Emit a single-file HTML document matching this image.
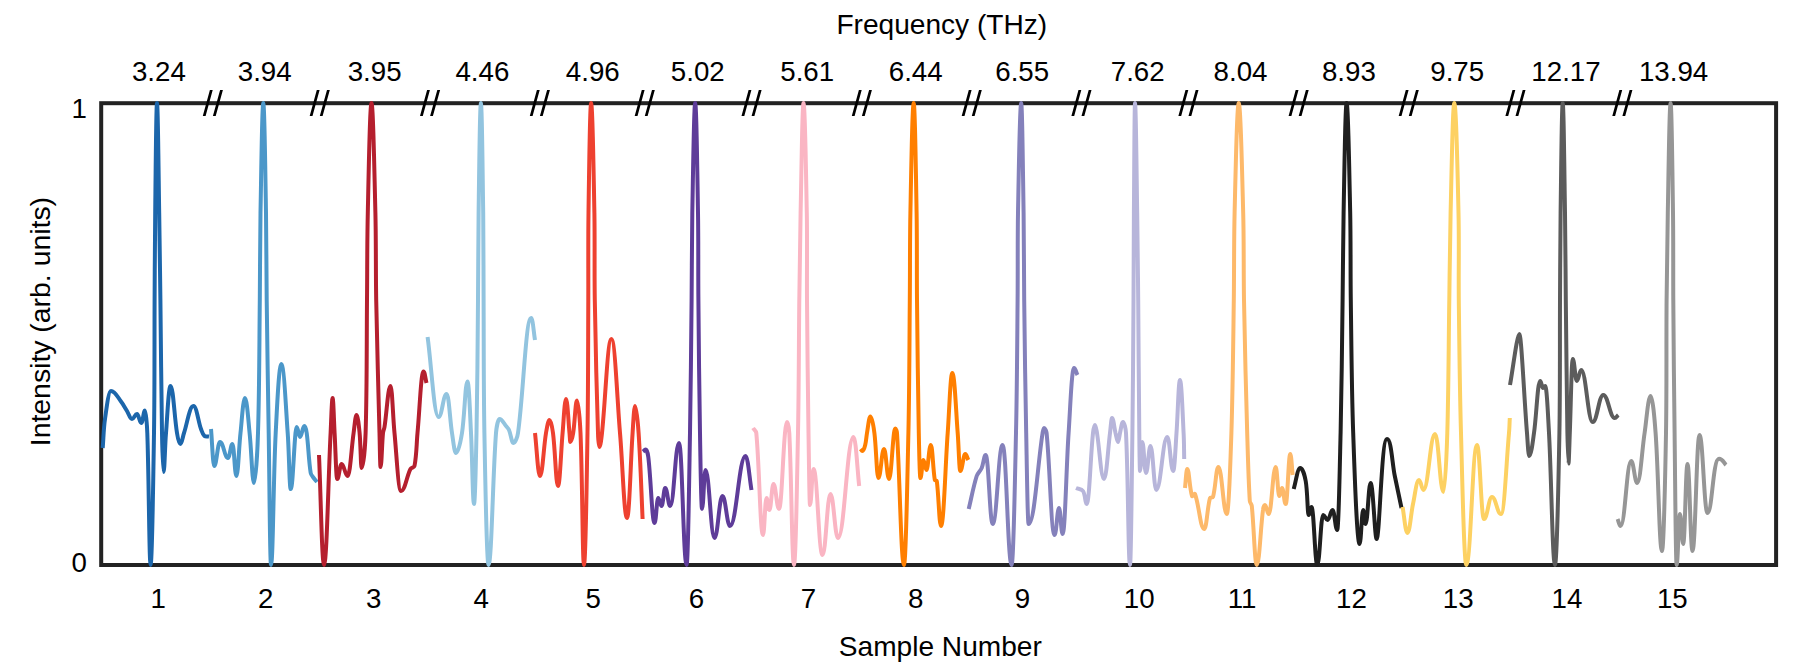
<!DOCTYPE html>
<html lang="en"><head><meta charset="utf-8"><title>Normalized spectra</title>
<style>
html,body{margin:0;padding:0;background:#fff;}
body{width:1803px;height:667px;overflow:hidden;}
svg{display:block;}
text{font-family:"Liberation Sans",Arial,Helvetica,sans-serif;fill:#000;}
.t{font-size:27.7px;}
.a{font-size:28.1px;}
.c{fill:none;stroke-width:4;stroke-linejoin:round;stroke-linecap:butt;}
</style></head>
<body>
<svg width="1803" height="667" viewBox="0 0 1803 667">
<rect x="0" y="0" width="1803" height="667" fill="#fff"/>
<rect x="101.2" y="103.2" width="1674.9" height="461.8" fill="none" stroke="#222" stroke-width="4"/>
<path class="c" stroke="#1c66ab" d="M102.7 448.0C103.5 438.3 103.6 428.6 105.0 419.0C106.4 409.6 108.5 391.0 111.0 391.0C115.2 391.0 118.0 397.7 121.0 401.5C123.3 404.4 125.0 407.8 127.0 411.0C128.7 413.7 129.9 419.0 132.0 419.0C134.1 419.0 134.9 414.0 137.0 414.0C138.8 414.0 139.5 423.0 141.3 423.0C142.9 423.0 143.4 410.5 145.0 410.5C146.0 410.5 147.0 425.5 147.3 433.0C148.9 477.0 149.2 564.9 150.6 564.9C152.0 564.9 153.3 477.0 154.0 433.0C154.7 388.7 154.4 344.3 154.6 300.0C154.8 271.0 154.8 242.0 155.2 213.0C155.6 176.4 156.2 103.1 157.0 103.1C157.9 103.1 158.6 176.4 159.2 213.0C159.7 242.0 160.0 271.0 160.4 300.0C161.0 344.3 161.2 388.7 162.0 433.0C162.2 446.0 162.9 472.0 163.5 472.0C164.6 472.0 164.9 446.0 166.0 433.0C167.3 417.3 168.6 386.0 170.5 386.0C173.2 386.0 174.4 417.4 177.0 433.0C177.6 436.8 178.9 444.0 180.3 444.0C181.9 444.0 182.7 436.7 184.0 433.0C187.1 424.0 189.5 406.0 193.4 406.0C196.6 406.0 198.2 421.4 201.0 429.0C201.9 431.4 202.6 434.2 204.5 436.0C205.6 437.0 207.5 436.3 209.0 436.5"/>
<path class="c" stroke="#4b97c9" d="M211.0 429.0C212.1 441.3 212.9 466.0 214.2 466.0C216.6 466.0 217.6 442.0 220.0 442.0C223.4 442.0 224.6 458.0 228.0 458.0C229.8 458.0 230.6 444.0 232.4 444.0C234.1 444.0 234.7 476.0 236.4 476.0C238.1 476.0 238.9 447.3 240.5 433.0C241.8 421.3 243.1 398.0 245.0 398.0C246.9 398.0 248.4 421.3 249.6 433.0C251.4 449.6 252.2 483.0 254.0 483.0C255.7 483.0 257.5 449.7 258.0 433.0C259.4 388.7 259.3 344.3 259.8 300.0C260.1 271.0 260.0 242.0 260.5 213.0C261.2 176.4 262.1 103.1 263.3 103.1C264.4 103.1 265.4 176.4 266.0 213.0C266.5 242.0 266.3 271.0 266.7 300.0C267.2 344.3 268.0 388.7 268.7 433.0C269.4 477.0 270.0 564.9 271.0 564.9C273.0 564.9 273.4 476.9 275.7 433.0C276.9 410.0 278.9 364.0 281.3 364.0C284.0 364.0 286.0 410.0 287.7 433.0C289.1 451.6 289.4 489.0 290.7 489.0C292.7 489.0 293.7 451.6 295.5 433.0C295.7 431.0 296.2 427.0 296.7 427.0C298.1 427.0 298.6 437.0 300.0 437.0C301.8 437.0 302.5 426.0 304.3 426.0C305.3 426.0 306.4 430.6 306.7 433.0C308.5 446.3 308.6 459.8 310.7 473.0C311.0 474.9 312.6 476.4 313.7 478.0C314.7 479.4 315.9 480.7 317.0 482.0"/>
<path class="c" stroke="#b51f2e" d="M319.0 455.0C320.7 491.6 321.9 564.9 324.0 564.9C326.8 564.9 328.3 477.0 330.6 433.0C331.2 421.3 331.8 398.0 332.6 398.0C333.4 398.0 333.9 421.3 334.6 433.0C335.5 448.3 336.1 479.0 337.2 479.0C339.0 479.0 339.8 464.0 341.6 464.0C344.1 464.0 345.1 476.0 347.6 476.0C350.1 476.0 351.5 447.3 353.6 433.0C354.5 427.0 355.3 415.0 356.6 415.0C357.9 415.0 359.0 426.9 359.6 433.0C360.7 444.6 360.8 468.0 361.6 468.0C363.3 468.0 365.2 444.7 365.6 433.0C367.0 388.7 366.6 344.3 367.0 300.0C367.3 271.0 367.1 242.0 367.8 213.0C368.6 176.4 369.9 103.1 371.5 103.1C373.1 103.1 374.5 176.4 375.4 213.0C376.1 242.0 375.7 271.0 376.2 300.0C377.0 344.3 378.4 388.7 379.5 433.0C379.8 444.3 380.1 467.0 380.5 467.0C381.6 467.0 381.9 444.3 383.0 433.0C383.2 430.9 384.2 429.0 384.5 427.0C386.7 413.4 388.0 386.0 390.5 386.0C392.2 386.0 392.9 417.4 394.5 433.0C396.4 452.4 398.3 491.0 401.0 491.0C405.0 491.0 406.7 476.0 410.5 469.0C411.3 467.5 414.2 467.6 414.5 466.0C416.6 455.2 416.5 444.0 417.5 433.0C419.5 412.5 421.0 371.5 423.5 371.5C424.8 371.5 425.5 379.2 426.5 383.0"/>
<path class="c" stroke="#92c4df" d="M427.6 337.0C431.3 363.7 434.0 417.0 438.6 417.0C442.0 417.0 443.2 394.0 446.6 394.0C448.9 394.0 449.9 420.0 452.0 433.0C453.1 439.7 454.3 453.0 456.0 453.0C458.5 453.0 460.9 439.9 462.0 433.0C464.7 416.0 465.2 381.5 467.5 381.5C469.0 381.5 470.1 415.8 471.0 433.0C472.3 456.7 472.7 504.0 474.0 504.0C475.1 504.0 476.0 456.7 476.5 433.0C477.4 388.7 477.6 344.3 478.0 300.0C478.3 271.0 478.2 242.0 478.6 213.0C479.1 176.4 479.9 103.1 480.9 103.1C481.9 103.1 482.7 176.4 483.2 213.0C483.6 242.0 483.4 271.0 483.6 300.0C483.8 344.3 483.6 388.7 484.4 433.0C485.2 477.0 486.8 564.9 488.5 564.9C491.6 564.9 492.7 476.9 496.0 433.0C496.4 428.2 498.0 419.0 499.5 419.0C502.2 419.0 503.9 423.6 506.0 426.0C507.1 427.3 508.3 428.5 509.0 430.0C510.9 434.2 511.6 443.0 513.5 443.0C515.4 443.0 517.5 436.6 518.0 433.0C523.4 394.8 525.7 318.0 531.2 318.0C532.8 318.0 533.7 332.7 535.0 340.0"/>
<path class="c" stroke="#ee4130" d="M535.0 433.0C536.7 447.3 537.9 476.0 540.0 476.0C542.5 476.0 543.6 447.3 546.0 433.0C546.8 428.6 548.0 420.0 549.5 420.0C551.0 420.0 552.4 428.5 553.0 433.0C555.3 450.6 555.9 486.0 558.0 486.0C559.9 486.0 561.0 450.7 562.6 433.0C563.6 421.7 564.6 399.0 566.0 399.0C567.5 399.0 568.4 421.7 569.5 433.0C569.8 436.0 570.0 442.0 570.3 442.0C571.5 442.0 572.7 436.1 573.2 433.0C574.9 422.2 575.4 400.5 577.0 400.5C578.5 400.5 580.0 422.1 580.5 433.0C582.4 476.9 582.5 564.9 584.0 564.9C585.5 564.9 586.8 477.0 587.5 433.0C588.2 388.7 588.1 344.3 588.3 300.0C588.4 271.0 588.1 242.0 588.5 213.0C589.0 176.4 590.0 103.1 591.1 103.1C592.5 103.1 593.7 176.4 594.4 213.0C594.9 242.0 594.3 271.0 594.8 300.0C595.5 344.3 596.6 388.7 598.0 433.0C598.1 437.7 598.9 447.0 599.5 447.0C600.5 447.0 601.5 437.7 602.0 433.0C605.4 401.7 607.5 339.0 611.4 339.0C615.0 339.0 617.3 401.7 620.0 433.0C622.5 461.3 624.1 518.0 627.0 518.0C629.4 518.0 630.6 461.3 632.6 433.0C633.2 424.0 634.0 406.0 635.0 406.0C636.5 406.0 638.0 423.9 638.6 433.0C640.5 461.6 641.3 490.3 642.6 519.0"/>
<path class="c" stroke="#5e3c99" d="M643.0 451.6C643.9 450.9 644.5 449.6 645.6 449.6C646.7 449.6 648.0 454.4 648.3 457.0C651.0 478.9 652.0 523.0 654.6 523.0C656.1 523.0 656.7 498.0 658.2 498.0C659.6 498.0 660.2 506.0 661.6 506.0C663.1 506.0 663.7 488.0 665.2 488.0C667.3 488.0 668.1 506.0 670.2 506.0C673.9 506.0 675.3 443.0 679.0 443.0C682.2 443.0 683.4 564.9 686.6 564.9C688.0 564.9 689.2 477.0 690.0 433.0C690.8 388.7 691.1 344.3 691.6 300.0C691.9 271.0 691.8 242.0 692.3 213.0C693.0 176.4 694.0 103.1 695.2 103.1C696.4 103.1 697.4 176.4 698.0 213.0C698.5 242.0 698.1 271.0 698.4 300.0C698.8 344.3 699.2 388.7 700.0 433.0C700.4 458.3 701.2 509.0 702.0 509.0C703.5 509.0 704.0 470.0 705.5 470.0C709.3 470.0 710.7 538.0 714.5 538.0C717.9 538.0 719.1 496.0 722.5 496.0C725.6 496.0 726.9 526.0 730.0 526.0C736.5 526.0 739.0 456.0 745.5 456.0C748.0 456.0 749.5 478.7 751.5 490.0"/>
<path class="c" stroke="#fab5c3" d="M753.0 428.0C754.1 429.7 756.1 431.0 756.3 433.0C759.5 466.9 760.2 535.0 763.0 535.0C764.5 535.0 765.0 498.0 766.5 498.0C767.7 498.0 768.2 510.0 769.4 510.0C771.1 510.0 771.8 484.0 773.5 484.0C775.8 484.0 776.7 509.0 779.0 509.0C781.5 509.0 782.7 458.3 785.0 433.0C785.3 429.3 786.2 422.0 787.0 422.0C788.0 422.0 789.1 429.3 789.3 433.0C791.5 476.9 792.0 564.9 794.0 564.9C795.7 564.9 797.1 477.0 798.0 433.0C798.9 388.7 798.8 344.3 799.3 300.0C799.6 271.0 800.0 242.0 800.6 213.0C801.4 176.4 802.3 103.1 803.5 103.1C804.9 103.1 806.1 176.4 806.8 213.0C807.3 242.0 806.8 271.0 807.0 300.0C807.3 344.3 807.9 388.7 808.5 433.0C808.9 457.0 809.4 505.0 810.0 505.0C811.5 505.0 812.0 469.0 813.5 469.0C817.3 469.0 818.7 555.0 822.5 555.0C825.9 555.0 827.1 494.0 830.5 494.0C833.6 494.0 834.9 538.0 838.0 538.0C844.5 538.0 847.0 437.0 853.5 437.0C855.9 437.0 857.3 469.7 859.2 486.0"/>
<path class="c" stroke="#ff7f00" d="M860.6 449.0C861.2 449.7 861.6 451.0 862.4 451.0C863.6 451.0 864.7 447.1 865.2 445.0C866.2 441.1 866.3 437.0 867.0 433.0C868.0 427.5 869.0 416.5 870.4 416.5C872.1 416.5 873.7 427.4 874.4 433.0C876.3 447.9 876.7 478.0 878.4 478.0C880.8 478.0 881.6 449.0 884.0 449.0C886.1 449.0 886.9 479.0 889.0 479.0C891.1 479.0 892.1 448.3 894.0 433.0C894.2 431.5 894.8 428.5 895.3 428.5C896.0 428.5 896.9 431.4 897.0 433.0C899.8 476.9 901.1 564.9 904.0 564.9C905.8 564.9 907.4 477.0 908.4 433.0C909.4 388.7 909.4 344.3 909.8 300.0C910.1 271.0 909.8 242.0 910.4 213.0C911.1 176.4 912.3 103.1 913.7 103.1C914.9 103.1 916.0 176.4 916.6 213.0C917.1 242.0 916.7 271.0 917.0 300.0C917.4 344.3 918.0 388.7 918.8 433.0C919.1 448.0 919.7 478.0 920.4 478.0C921.7 478.0 922.1 460.0 923.4 460.0C924.7 460.0 925.1 470.0 926.4 470.0C928.2 470.0 929.0 445.0 930.8 445.0C932.5 445.0 932.9 468.4 934.8 480.0C934.9 480.7 936.7 480.3 936.8 481.0C938.8 495.9 939.2 526.0 941.0 526.0C943.8 526.0 945.4 464.0 947.7 433.0C949.2 413.0 950.4 373.0 952.3 373.0C954.6 373.0 956.1 413.0 957.7 433.0C958.7 445.7 959.2 471.0 960.3 471.0C962.4 471.0 963.2 454.0 965.3 454.0C966.6 454.0 967.3 458.0 968.3 460.0"/>
<path class="c" stroke="#8481bb" d="M968.7 509.0C971.4 498.0 973.3 486.8 976.7 476.0C977.7 473.0 980.5 470.9 981.7 468.0C983.5 463.8 984.0 455.0 985.7 455.0C988.6 455.0 989.8 524.0 992.7 524.0C996.9 524.0 998.4 445.0 1002.6 445.0C1006.4 445.0 1007.8 564.9 1011.6 564.9C1013.4 564.9 1015.0 477.0 1016.0 433.0C1017.0 388.7 1017.2 344.3 1017.6 300.0C1017.9 271.0 1017.5 242.0 1018.0 213.0C1018.7 176.4 1019.9 103.1 1021.2 103.1C1022.2 103.1 1023.0 176.4 1023.6 213.0C1024.0 242.0 1023.9 271.0 1024.2 300.0C1024.7 344.3 1025.3 388.7 1026.2 433.0C1026.8 463.3 1027.6 524.0 1028.6 524.0C1034.5 524.0 1037.7 463.3 1042.6 433.0C1042.9 431.3 1043.4 428.0 1044.0 428.0C1045.1 428.0 1046.4 431.1 1046.6 433.0C1050.0 466.9 1051.2 535.0 1054.6 535.0C1056.4 535.0 1057.2 508.0 1059.0 508.0C1060.5 508.0 1061.1 534.0 1062.6 534.0C1065.1 534.0 1066.3 466.6 1068.6 433.0C1070.1 411.3 1071.7 368.0 1074.0 368.0C1075.5 368.0 1076.3 372.7 1077.5 375.0"/>
<path class="c" stroke="#b7b5da" d="M1076.0 488.0C1078.3 489.0 1081.6 488.9 1083.0 491.0C1085.5 494.7 1085.1 504.0 1086.6 504.0C1089.3 504.0 1090.5 456.6 1093.0 433.0C1093.3 430.3 1094.2 425.0 1095.0 425.0C1095.8 425.0 1096.5 430.3 1097.0 433.0C1099.5 448.3 1101.1 479.0 1104.0 479.0C1106.5 479.0 1108.0 448.3 1110.0 433.0C1110.7 428.0 1111.2 418.0 1112.0 418.0C1113.5 418.0 1114.3 428.0 1115.5 433.0C1116.3 436.0 1117.0 442.0 1118.0 442.0C1118.8 442.0 1119.3 436.0 1120.0 433.0C1120.9 429.3 1121.7 422.0 1123.0 422.0C1124.3 422.0 1125.8 429.2 1126.0 433.0C1128.2 476.9 1128.3 564.9 1130.0 564.9C1131.0 564.9 1131.8 477.0 1132.4 433.0C1133.0 388.7 1133.2 344.3 1133.5 300.0C1133.7 271.0 1133.7 242.0 1133.9 213.0C1134.2 176.4 1134.5 103.1 1135.0 103.1C1135.9 103.1 1136.6 176.4 1137.2 213.0C1137.7 242.0 1137.9 271.0 1138.2 300.0C1138.6 344.3 1138.8 388.7 1139.3 433.0C1139.4 445.7 1139.7 471.0 1140.0 471.0C1141.0 471.0 1141.3 442.0 1142.3 442.0C1143.9 442.0 1144.4 473.0 1146.0 473.0C1147.9 473.0 1148.6 446.0 1150.5 446.0C1152.9 446.0 1153.9 490.0 1156.3 490.0C1160.9 490.0 1162.7 437.0 1167.3 437.0C1169.8 437.0 1170.7 471.0 1173.2 471.0C1174.6 471.0 1175.6 445.7 1176.5 433.0C1177.8 415.3 1178.5 380.0 1180.0 380.0C1181.5 380.0 1182.7 415.3 1183.6 433.0C1184.1 441.7 1184.0 450.3 1184.2 459.0"/>
<path class="c" stroke="#fdb96a" d="M1185.0 488.0C1185.7 481.7 1186.3 469.0 1187.2 469.0C1189.2 469.0 1189.3 487.3 1192.0 496.0C1192.4 497.1 1194.6 492.9 1195.0 494.0C1199.2 505.3 1200.3 529.0 1204.2 529.0C1206.6 529.0 1207.2 508.1 1210.0 498.0C1210.3 497.0 1212.7 498.0 1213.0 497.0C1215.7 487.2 1216.1 467.0 1218.4 467.0C1221.9 467.0 1223.3 514.0 1226.8 514.0C1228.7 514.0 1230.5 460.0 1231.4 433.0C1232.8 388.7 1233.2 344.3 1233.8 300.0C1234.2 271.0 1233.9 242.0 1234.6 213.0C1235.5 176.4 1237.0 103.1 1238.7 103.1C1240.6 103.1 1242.2 176.3 1243.2 213.0C1244.0 242.0 1243.5 271.0 1244.0 300.0C1244.8 344.3 1245.9 388.7 1247.2 433.0C1247.9 455.7 1248.4 478.4 1249.8 501.0C1249.9 502.8 1251.6 504.2 1251.8 506.0C1253.9 525.6 1254.7 564.9 1256.8 564.9C1259.4 564.9 1260.5 528.2 1263.0 510.0C1263.2 508.2 1264.2 505.0 1265.0 505.0C1266.6 505.0 1267.1 514.0 1268.7 514.0C1271.6 514.0 1272.8 467.0 1275.7 467.0C1277.2 467.0 1277.8 496.0 1279.3 496.0C1280.4 496.0 1280.9 488.0 1282.0 488.0C1283.6 488.0 1284.1 504.0 1285.7 504.0C1287.6 504.0 1288.4 454.0 1290.3 454.0C1291.3 454.0 1291.9 468.0 1292.7 475.0"/>
<path class="c" stroke="#1f1f1f" d="M1293.7 489.0C1295.9 482.0 1297.5 468.0 1300.3 468.0C1302.6 468.0 1304.9 476.4 1305.7 481.0C1307.7 492.2 1307.4 515.0 1308.7 515.0C1309.9 515.0 1310.3 507.0 1311.5 507.0C1313.9 507.0 1314.9 564.9 1317.3 564.9C1319.8 564.9 1320.7 515.0 1323.2 515.0C1325.0 515.0 1325.8 520.0 1327.6 520.0C1329.7 520.0 1330.5 510.0 1332.6 510.0C1334.5 510.0 1335.3 530.0 1337.2 530.0C1338.6 530.0 1339.8 465.3 1340.6 433.0C1341.6 388.7 1342.0 344.3 1342.6 300.0C1343.0 271.0 1343.0 242.0 1343.6 213.0C1344.3 176.4 1345.3 103.1 1346.6 103.1C1348.1 103.1 1349.4 176.4 1350.2 213.0C1350.8 242.0 1350.4 271.0 1350.8 300.0C1351.4 344.3 1351.6 388.7 1353.2 433.0C1354.5 470.0 1356.9 544.0 1359.6 544.0C1361.1 544.0 1361.7 510.0 1363.2 510.0C1364.2 510.0 1364.6 524.0 1365.6 524.0C1367.7 524.0 1368.5 483.0 1370.6 483.0C1373.1 483.0 1374.8 539.0 1376.6 539.0C1379.7 539.0 1381.3 439.0 1387.0 439.0C1391.3 439.0 1392.2 463.7 1394.8 476.0C1397.0 486.7 1399.3 497.3 1401.5 508.0"/>
<path class="c" stroke="#fdd162" d="M1402.6 507.0C1404.2 515.7 1405.4 533.0 1407.4 533.0C1409.8 533.0 1410.9 513.6 1413.0 504.0C1414.8 495.9 1416.5 480.0 1419.0 480.0C1420.9 480.0 1421.6 490.0 1423.5 490.0C1428.3 490.0 1430.2 434.0 1435.0 434.0C1438.6 434.0 1439.9 492.0 1443.5 492.0C1445.1 492.0 1446.7 452.7 1447.3 433.0C1448.6 388.7 1448.6 344.3 1449.3 300.0C1449.7 271.0 1449.9 242.0 1450.6 213.0C1451.5 176.4 1452.7 103.1 1454.3 103.1C1456.1 103.1 1457.7 176.3 1458.5 213.0C1459.2 242.0 1458.5 271.0 1458.8 300.0C1459.3 344.3 1459.7 388.7 1461.0 433.0C1462.2 477.0 1464.1 564.9 1466.3 564.9C1470.8 564.9 1472.5 445.0 1477.0 445.0C1479.9 445.0 1481.1 519.0 1484.0 519.0C1487.4 519.0 1488.6 497.0 1492.0 497.0C1495.8 497.0 1497.2 514.0 1501.0 514.0C1504.4 514.0 1506.5 460.0 1509.0 433.0C1509.5 428.0 1509.5 423.0 1509.8 418.0"/>
<path class="c" stroke="#5c5c5c" d="M1510.0 385.0C1513.1 368.0 1517.1 334.0 1519.4 334.0C1521.3 334.0 1524.3 400.0 1527.0 433.0C1527.6 440.7 1528.3 456.0 1529.2 456.0C1531.2 456.0 1532.9 440.7 1534.0 433.0C1536.5 415.7 1537.6 381.0 1540.2 381.0C1541.4 381.0 1541.8 388.0 1543.0 388.0C1543.9 388.0 1544.3 386.0 1545.2 386.0C1546.8 386.0 1548.1 417.3 1549.0 433.0C1551.4 476.9 1552.5 564.9 1555.0 564.9C1556.8 564.9 1558.6 477.0 1559.4 433.0C1560.2 388.7 1559.8 344.3 1560.0 300.0C1560.2 271.0 1560.2 242.0 1560.6 213.0C1561.1 176.4 1561.8 103.1 1562.7 103.1C1563.7 103.1 1564.4 176.4 1565.0 213.0C1565.5 242.0 1565.5 271.0 1565.8 300.0C1566.3 344.3 1566.7 388.7 1567.4 433.0C1567.6 443.2 1568.2 463.5 1568.5 463.5C1568.9 463.5 1569.4 443.2 1569.8 433.0C1570.8 408.3 1571.5 359.0 1572.8 359.0C1574.5 359.0 1575.1 381.0 1576.8 381.0C1578.6 381.0 1579.4 370.0 1581.2 370.0C1586.0 370.0 1587.9 422.0 1592.7 422.0C1597.2 422.0 1598.8 395.0 1603.3 395.0C1608.1 395.0 1609.9 418.0 1614.7 418.0C1616.2 418.0 1617.1 416.0 1618.3 415.0"/>
<path class="c" stroke="#969696" d="M1617.6 519.0C1618.6 521.3 1619.3 526.0 1620.6 526.0C1625.1 526.0 1626.7 461.0 1631.2 461.0C1633.7 461.0 1634.7 483.0 1637.2 483.0C1640.3 483.0 1642.0 449.7 1644.6 433.0C1646.5 420.7 1648.1 396.0 1650.6 396.0C1652.7 396.0 1654.7 420.6 1655.6 433.0C1658.5 472.3 1659.3 551.0 1662.0 551.0C1663.7 551.0 1665.3 472.3 1666.0 433.0C1666.8 388.7 1666.2 344.3 1666.6 300.0C1666.8 271.0 1667.2 242.0 1667.8 213.0C1668.5 176.4 1669.4 103.1 1670.6 103.1C1671.6 103.1 1672.5 176.4 1673.0 213.0C1673.4 242.0 1673.1 271.0 1673.3 300.0C1673.6 344.3 1674.0 388.7 1674.6 433.0C1675.1 477.0 1675.8 564.9 1676.6 564.9C1678.0 564.9 1678.6 514.0 1680.0 514.0C1681.3 514.0 1681.9 544.0 1683.2 544.0C1685.0 544.0 1685.7 464.0 1687.5 464.0C1689.6 464.0 1690.4 551.0 1692.5 551.0C1695.4 551.0 1696.6 435.0 1699.5 435.0C1702.9 435.0 1704.1 513.0 1707.5 513.0C1712.3 513.0 1712.7 458.7 1719.0 458.7C1722.8 458.7 1723.7 462.9 1726.0 465.0"/>
<path d="M202.8 115.9L205.6 115.9L212.7 89.9L209.9 89.9ZM212.9 115.9L215.7 115.9L222.9 89.9L220.1 89.9Z" fill="#000"/>
<path d="M309.7 115.9L312.5 115.9L319.6 89.9L316.8 89.9ZM319.8 115.9L322.6 115.9L329.8 89.9L327.0 89.9Z" fill="#000"/>
<path d="M420.0 115.9L422.8 115.9L429.9 89.9L427.1 89.9ZM430.1 115.9L432.9 115.9L440.1 89.9L437.3 89.9Z" fill="#000"/>
<path d="M529.8 115.9L532.6 115.9L539.7 89.9L536.9 89.9ZM539.9 115.9L542.7 115.9L549.9 89.9L547.1 89.9Z" fill="#000"/>
<path d="M634.7 115.9L637.5 115.9L644.6 89.9L641.8 89.9ZM644.8 115.9L647.6 115.9L654.8 89.9L652.0 89.9Z" fill="#000"/>
<path d="M741.5 115.9L744.3 115.9L751.4 89.9L748.6 89.9ZM751.6 115.9L754.4 115.9L761.6 89.9L758.8 89.9Z" fill="#000"/>
<path d="M851.8 115.9L854.6 115.9L861.7 89.9L858.9 89.9ZM861.9 115.9L864.7 115.9L871.9 89.9L869.1 89.9Z" fill="#000"/>
<path d="M961.7 115.9L964.5 115.9L971.6 89.9L968.8 89.9ZM971.8 115.9L974.6 115.9L981.8 89.9L979.0 89.9Z" fill="#000"/>
<path d="M1071.4 115.9L1074.2 115.9L1081.3 89.9L1078.5 89.9ZM1081.5 115.9L1084.3 115.9L1091.5 89.9L1088.7 89.9Z" fill="#000"/>
<path d="M1178.4 115.9L1181.2 115.9L1188.3 89.9L1185.5 89.9ZM1188.5 115.9L1191.3 115.9L1198.5 89.9L1195.7 89.9Z" fill="#000"/>
<path d="M1288.6 115.9L1291.4 115.9L1298.5 89.9L1295.7 89.9ZM1298.7 115.9L1301.5 115.9L1308.7 89.9L1305.9 89.9Z" fill="#000"/>
<path d="M1398.7 115.9L1401.5 115.9L1408.6 89.9L1405.8 89.9ZM1408.8 115.9L1411.6 115.9L1418.8 89.9L1416.0 89.9Z" fill="#000"/>
<path d="M1505.4 115.9L1508.2 115.9L1515.3 89.9L1512.5 89.9ZM1515.5 115.9L1518.3 115.9L1525.5 89.9L1522.7 89.9Z" fill="#000"/>
<path d="M1612.3 115.9L1615.1 115.9L1622.2 89.9L1619.4 89.9ZM1622.4 115.9L1625.2 115.9L1632.4 89.9L1629.6 89.9Z" fill="#000"/>
<text class="a" x="941.8" y="34" text-anchor="middle">Frequency (THz)</text>
<text class="t" x="158.9" y="81" text-anchor="middle">3.24</text>
<text class="t" x="264.7" y="81" text-anchor="middle">3.94</text>
<text class="t" x="374.6" y="81" text-anchor="middle">3.95</text>
<text class="t" x="482.4" y="81" text-anchor="middle">4.46</text>
<text class="t" x="592.8" y="81" text-anchor="middle">4.96</text>
<text class="t" x="697.8" y="81" text-anchor="middle">5.02</text>
<text class="t" x="807.2" y="81" text-anchor="middle">5.61</text>
<text class="t" x="915.7" y="81" text-anchor="middle">6.44</text>
<text class="t" x="1022.2" y="81" text-anchor="middle">6.55</text>
<text class="t" x="1137.7" y="81" text-anchor="middle">7.62</text>
<text class="t" x="1240.5" y="81" text-anchor="middle">8.04</text>
<text class="t" x="1348.9" y="81" text-anchor="middle">8.93</text>
<text class="t" x="1457.2" y="81" text-anchor="middle">9.75</text>
<text class="t" x="1566.0" y="81" text-anchor="middle">12.17</text>
<text class="t" x="1673.6" y="81" text-anchor="middle">13.94</text>
<text class="t" x="158.3" y="608" text-anchor="middle">1</text>
<text class="t" x="265.7" y="608" text-anchor="middle">2</text>
<text class="t" x="373.8" y="608" text-anchor="middle">3</text>
<text class="t" x="481.2" y="608" text-anchor="middle">4</text>
<text class="t" x="593.2" y="608" text-anchor="middle">5</text>
<text class="t" x="696.4" y="608" text-anchor="middle">6</text>
<text class="t" x="808.5" y="608" text-anchor="middle">7</text>
<text class="t" x="915.6" y="608" text-anchor="middle">8</text>
<text class="t" x="1022.4" y="608" text-anchor="middle">9</text>
<text class="t" x="1139.2" y="608" text-anchor="middle">10</text>
<text class="t" x="1242.0" y="608" text-anchor="middle">11</text>
<text class="t" x="1351.4" y="608" text-anchor="middle">12</text>
<text class="t" x="1458.2" y="608" text-anchor="middle">13</text>
<text class="t" x="1566.9" y="608" text-anchor="middle">14</text>
<text class="t" x="1672.3" y="608" text-anchor="middle">15</text>
<text class="a" x="940.3" y="655.5" text-anchor="middle">Sample Number</text>
<text class="a" style="font-size:28.4px" transform="translate(49.9 321.6) rotate(-90)" text-anchor="middle">Intensity (arb. units)</text>
<text class="t" x="87" y="117.7" text-anchor="end">1</text>
<text class="t" x="87" y="572.4" text-anchor="end">0</text>
</svg>
</body></html>
